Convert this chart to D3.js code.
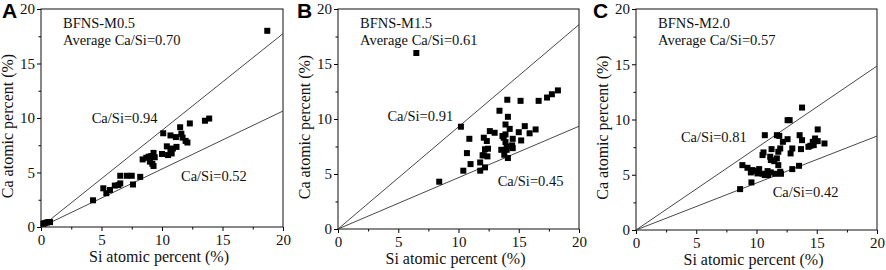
<!DOCTYPE html>
<html>
<head>
<meta charset="utf-8">
<script src="https://cdn.jsdelivr.net/npm/d3@7"></script>
<style>
  body { margin: 0; background: #fff; }
  svg { display: block; }
  .tick text { font-family: "Liberation Serif", "Times New Roman", serif; font-size: 15px; fill: #111; }
  .txt { font-family: "Liberation Serif", "Times New Roman", serif; fill: #111; }
</style>
</head>
<body>
<div id="chart"></div>
<script>
// values
var panelLetters = ["A", "B", "C"];
var sampleNames = ["BFNS-M0.5", "BFNS-M1.5", "BFNS-M2.0"];
var averageRatios = ["0.70", "0.61", "0.57"];
var upperLabels = ["0.94", "0.91", "0.81"];
var lowerLabels = ["0.52", "0.45", "0.42"];
// slopes of the two guide lines as drawn
var upperSlopes = [0.887, 0.929, 0.742];
var lowerSlopes = [0.532, 0.467, 0.425];
var majorTicks = [0, 5, 10, 15, 20];
var minorTicks = [2.5, 7.5, 12.5, 17.5];

var pointsA = [
  [18.7, 18.0], [13.55, 9.75], [13.9, 9.95], [12.3, 9.5], [11.5, 9.15], [11.6, 8.55],
  [10.7, 8.4], [10.1, 8.6], [11.15, 8.25], [11.7, 8.2], [11.95, 7.9], [12.1, 7.75],
  [11.2, 7.35], [10.4, 7.4], [10.7, 7.15], [10.9, 7.2], [10.0, 6.7], [10.5, 6.6],
  [10.8, 6.75], [9.3, 6.8], [9.1, 6.5], [8.9, 6.45], [9.4, 6.4], [9.0, 6.0],
  [9.2, 5.8], [9.3, 5.6], [8.7, 6.35], [8.4, 6.2], [8.2, 4.6], [7.6, 3.9],
  [7.5, 4.7], [7.1, 4.7], [6.55, 4.7], [6.55, 4.0], [6.1, 3.8], [6.4, 3.85],
  [5.7, 3.4], [5.15, 3.55], [5.4, 3.1], [4.3, 2.45], [0.2, 0.3], [0.45, 0.4],
  [0.75, 0.45], [0.3, 0.35], [0.6, 0.45]
];

var pointsB = [
  [6.5, 16.0], [8.4, 4.3], [10.2, 9.3], [10.4, 5.3], [10.7, 6.9], [10.9, 8.2],
  [11.0, 5.9], [11.8, 6.05], [11.8, 5.3], [12.0, 6.7], [12.1, 8.3], [12.2, 7.25],
  [12.35, 8.0], [12.4, 6.6], [12.2, 5.6], [12.6, 8.9], [13.0, 8.75], [12.45, 7.3],
  [13.4, 10.75], [13.55, 7.2], [13.65, 8.45], [13.75, 8.3], [13.8, 6.75], [13.9, 8.6],
  [13.9, 9.5], [14.0, 7.2], [14.0, 7.5], [14.05, 11.75], [14.1, 10.2], [14.1, 6.45],
  [14.25, 9.1], [14.5, 8.2], [14.45, 7.6], [14.5, 7.35], [15.0, 8.8], [15.15, 11.65],
  [15.2, 8.05], [15.5, 9.35], [15.9, 8.7], [16.4, 9.05], [16.65, 11.65], [17.35, 11.95],
  [17.75, 12.25], [18.25, 12.6], [13.9, 7.9], [12.1, 6.7]
];

var pointsC = [
  [13.78, 11.08], [12.58, 9.94], [12.75, 9.94], [10.69, 8.58], [11.69, 8.58], [11.89, 8.52],
  [12.58, 8.22], [13.58, 8.58], [13.78, 8.13], [15.08, 9.1], [14.86, 8.28], [14.67, 7.98],
  [14.47, 7.62], [14.31, 7.53], [15.08, 8.04], [15.64, 7.83], [14.75, 7.68], [13.69, 7.32],
  [12.97, 7.38], [12.83, 6.93], [12.19, 7.98], [11.97, 7.38], [11.81, 7.08], [11.25, 7.32],
  [11.14, 6.63], [10.58, 7.02], [10.5, 6.78], [11.19, 6.33], [11.47, 6.23], [11.69, 6.48],
  [11.81, 5.87], [11.97, 5.27], [12.03, 5.09], [11.56, 5.09], [11.19, 5.21], [10.97, 4.97],
  [10.69, 4.97], [10.5, 5.09], [10.22, 5.51], [10.08, 5.12], [9.94, 5.33], [9.67, 5.42],
  [9.53, 5.21], [9.25, 5.63], [8.83, 5.87], [12.97, 5.51], [13.53, 5.81], [8.64, 3.7],
  [9.58, 4.31], [10.92, 5.33]
];

var allPoints = [pointsA, pointsB, pointsC];

// label anchors in data units
var upperLabelPos = [[4.19, 9.54], [4.1, 9.85], [3.73, 7.95]];
var lowerLabelPos = [[11.57, 4.22], [13.25, 3.94], [11.34, 2.98]];

var width = 886,
    height = 270;

var panels = [
  { left: 41, right: 283, top: 9, bottom: 227, letterX: 2 },
  { left: 338, right: 579, top: 9, bottom: 229, letterX: 297 },
  { left: 636, right: 877, top: 9, bottom: 230, letterX: 593 }
];

var svg = d3.select("#chart").append("svg")
    .attr("width", width)
    .attr("height", height);

panels.forEach(function(p, i) {
  var x = d3.scaleLinear().domain([0, 20]).range([p.left, p.right]);
  var y = d3.scaleLinear().domain([0, 20]).range([p.bottom, p.top]);

  var g = svg.append("g");

  // minor ticks
  g.append("g")
      .attr("transform", "translate(0," + p.bottom + ")")
      .call(d3.axisBottom(x).tickValues(minorTicks).tickSize(2.5).tickFormat(""))
      .call(a => a.select(".domain").remove());
  g.append("g")
      .attr("transform", "translate(" + p.left + ",0)")
      .call(d3.axisLeft(y).tickValues(minorTicks).tickSize(2.5).tickFormat(""))
      .call(a => a.select(".domain").remove());

  // major ticks
  g.append("g")
      .attr("transform", "translate(0," + p.bottom + ")")
      .call(d3.axisBottom(x).tickValues(majorTicks).tickSize(4).tickPadding(3).tickSizeOuter(0))
      .call(a => a.select(".domain").remove());
  g.append("g")
      .attr("transform", "translate(" + p.left + ",0)")
      .call(d3.axisLeft(y).tickValues(majorTicks).tickSize(4).tickPadding(2).tickSizeOuter(0))
      .call(a => a.select(".domain").remove());

  // frame
  g.append("rect")
      .attr("x", p.left)
      .attr("y", p.top)
      .attr("width", p.right - p.left)
      .attr("height", p.bottom - p.top)
      .attr("fill", "none")
      .attr("stroke", "#111")
      .attr("stroke-width", 1);

  // guide lines
  [upperSlopes[i], lowerSlopes[i]].forEach(function(s) {
    g.append("line")
        .attr("x1", x(0)).attr("y1", y(0))
        .attr("x2", x(20)).attr("y2", y(20 * s))
        .attr("stroke", "#333")
        .attr("stroke-width", 0.9);
  });

  // points
  g.append("g")
    .selectAll("rect")
    .data(allPoints[i])
    .join("rect")
      .attr("x", d => x(d[0]) - 3)
      .attr("y", d => y(d[1]) - 3)
      .attr("width", 6)
      .attr("height", 6)
      .attr("fill", "#000");

  // texts
  g.append("text")
      .attr("class", "txt")
      .attr("x", p.left + 22)
      .attr("y", p.top + 19)
      .attr("font-size", "14.5px")
      .text(sampleNames[i]);
  g.append("text")
      .attr("class", "txt")
      .attr("x", p.left + 22)
      .attr("y", p.top + 36)
      .attr("font-size", "14.5px")
      .text("Average Ca/Si=" + averageRatios[i]);
  g.append("text")
      .attr("class", "txt")
      .attr("x", x(upperLabelPos[i][0]))
      .attr("y", y(upperLabelPos[i][1]))
      .attr("font-size", "14.5px")
      .text("Ca/Si=" + upperLabels[i]);
  g.append("text")
      .attr("class", "txt")
      .attr("x", x(lowerLabelPos[i][0]))
      .attr("y", y(lowerLabelPos[i][1]))
      .attr("font-size", "14.5px")
      .text("Ca/Si=" + lowerLabels[i]);

  g.append("text")
      .attr("class", "txt")
      .attr("x", (p.left + p.right) / 2 - 3)
      .attr("y", p.bottom + 35)
      .attr("text-anchor", "middle")
      .attr("font-size", "16px")
      .text("Si atomic percent (%)");
  g.append("text")
      .attr("class", "txt")
      .attr("transform", "translate(" + (p.left - 28) + "," + ((p.top + p.bottom) / 2 + 8) + ") rotate(-90)")
      .attr("text-anchor", "middle")
      .attr("font-size", "16px")
      .text("Ca atomic percent (%)");

  g.append("text")
      .attr("x", p.letterX)
      .attr("y", 18)
      .attr("font-family", "'Liberation Sans', Arial, sans-serif")
      .attr("font-weight", "bold")
      .attr("font-size", "21px")
      .attr("fill", "#000")
      .text(panelLetters[i]);
});
</script>
</body>
</html>
